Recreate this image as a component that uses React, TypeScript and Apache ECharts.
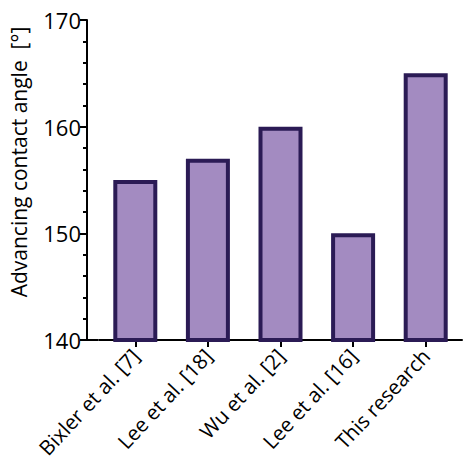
import React, { useEffect, useRef } from "react";
import * as echarts from "echarts";

const categories = ["Bixler et al. [7]", "Lee et al. [18]", "Wu et al. [2]", "Lee et al. [16]", "This research"];
const angles = [155, 157, 160, 150, 165];
const yTicks = { min: 140, max: 170, interval: 10 };

export default function App() {
  const ref = useRef<HTMLDivElement>(null);
  useEffect(() => {
    const chart = echarts.init(ref.current!, null, { renderer: "svg" });
    const font = "'Open Sans', 'Noto Sans', sans-serif";
    chart.setOption({
      animation: false,
      grid: { left: 97, right: 2, top: 20, bottom: 121 },
      graphic: [
        {
          type: "line",
          shape: { x1: 84, y1: 340, x2: 98, y2: 340 },
          style: { stroke: "#000", lineWidth: 2 },
        },
      ],
      xAxis: {
        type: "category",
        data: categories,
        boundaryGap: true,
        axisLine: { lineStyle: { color: "#000", width: 2 } },
        axisTick: { show: true, inside: false, alignWithLabel: true, length: 7, lineStyle: { color: "#000", width: 2 } },
        axisLabel: { rotate: 47, fontSize: 20.5, color: "#000", fontFamily: font, margin: 12, interval: 0 },
      },
      yAxis: [
        {
          type: "value",
          min: yTicks.min,
          max: yTicks.max,
          interval: yTicks.interval,
          offset: 12,
          name: "Advancing contact angle  [°]",
          nameLocation: "middle",
          nameGap: 58,
          nameTextStyle: { fontSize: 21, color: "#000", fontFamily: font, padding: [0, 0, 0, 36] },
          axisLine: { show: true, lineStyle: { color: "#000", width: 2 } },
          axisTick: { show: true, inside: false, length: 7, lineStyle: { color: "#000", width: 2 } },
          minorTick: { show: true, splitNumber: 5, length: 4, lineStyle: { color: "#000", width: 2 } },
          splitLine: { show: false },
          axisLabel: { fontSize: 22, color: "#000", fontFamily: font, margin: 6 },
        },
      ],
      series: [
        {
          type: "bar",
          data: angles,
          barWidth: 44,
          itemStyle: { color: "#a38bc1", borderColor: "#2b1b55", borderWidth: 4 },
        },
      ],
    });
    return () => chart.dispose();
  }, []);
  return <div ref={ref} style={{ width: 464, height: 461, position: "absolute", left: 0, top: 0 }} />;
}
